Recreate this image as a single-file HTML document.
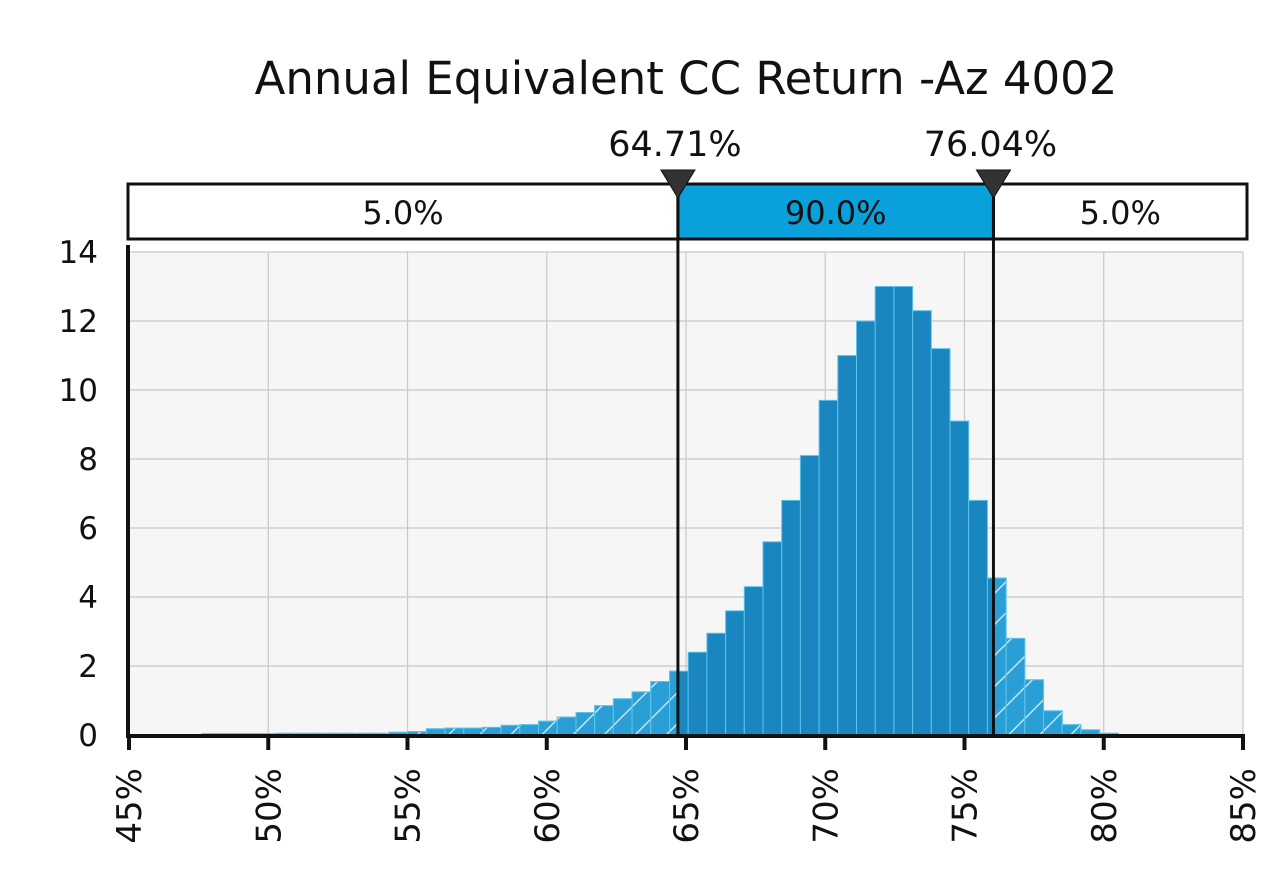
<!DOCTYPE html>
<html><head><meta charset="utf-8"><style>
html,body{margin:0;padding:0;background:#fff;}
svg{display:block;font-family:"DejaVu Sans","Liberation Sans",sans-serif;}
</style></head><body>
<svg id="chart" width="1280" height="894" viewBox="0 0 1280 894" xmlns="http://www.w3.org/2000/svg">
<defs>
<pattern id="hatch" patternUnits="userSpaceOnUse" width="22" height="22" patternTransform="rotate(45)">
<rect width="22" height="22" fill="#2a9fd6"/>
<line x1="0" y1="0" x2="0" y2="22" stroke="#bfe6f7" stroke-width="3"/>
</pattern>
<clipPath id="leftTail"><rect id="lt" x="0" y="0" width="0" height="894"/></clipPath>
<clipPath id="rightTail"><rect id="rt" x="0" y="0" width="1280" height="894"/></clipPath>
</defs>
<g id="root"></g>
</svg>
<script>
const binStart = 47.62;
const binWidth = 0.6715;
const counts = [0.04,0.04,0.04,0.04,0.05,0.05,0.05,0.05,0.05,0.05,0.08,0.1,0.18,0.2,0.2,0.22,0.28,0.3,0.4,0.52,0.65,0.85,1.05,1.25,1.55,1.85,2.4,2.95,3.6,4.3,5.6,6.8,8.1,9.7,11.0,12.0,13.0,13.0,12.3,11.2,9.1,6.8,4.55,2.8,1.6,0.7,0.3,0.15,0.05];
const xTicks = [45,50,55,60,65,70,75,80,85];
const yTicks = [0,2,4,6,8,10,12,14];
const lowerPct = 64.71;
const upperPct = 76.04;
const bandLabels = ["5.0%","90.0%","5.0%"];
const title = "Annual Equivalent CC Return -Az 4002";

const NS="http://www.w3.org/2000/svg";
const X0=129, PXP=27.85, Y0=735, PYU=34.5;
const xs = v => X0 + (v-45)*PXP;
const ys = v => Y0 - v*PYU;
const root=document.getElementById('root');
function mk(tag, attrs, parent){const e=document.createElementNS(NS,tag);for(const k in attrs)e.setAttribute(k,attrs[k]);(parent||root).appendChild(e);return e;}

// plot background
let bg=mk('rect',{x:128,y:252,width:1115,height:483,fill:'#f6f6f6',stroke:'#d8d8d8','stroke-width':1});


// grid
yTicks.forEach(t=>{
  const g=mk('line',{x1:128,x2:1243,y1:ys(t),y2:ys(t),stroke:'#c8c8c8','stroke-width':1.2});
  
  
});
xTicks.forEach(t=>{
  const g=mk('line',{x1:xs(t),x2:xs(t),y1:252,y2:735,stroke:'#c8c8c8','stroke-width':1.2});
  
  
});
// clip regions
document.getElementById('lt').setAttribute('width', xs(lowerPct));
document.getElementById('rt').setAttribute('x', xs(upperPct));
// bars
counts.forEach((c,i)=>{
  const x=xs(binStart+i*binWidth), w=binWidth*PXP, y=ys(c);
  const b=mk('rect',{x:x,y:y,width:w,height:Y0-y,fill:'#1a86c0',stroke:'#5cc3ec','stroke-width':1});
  
  
  ['leftTail','rightTail'].forEach(cp=>{
    const h=mk('rect',{x:x,y:y,width:w,height:Y0-y,fill:'url(#hatch)',stroke:'#5cc3ec','stroke-width':1,'clip-path':'url(#'+cp+')'});
    
    
  });
});
// axes
let ya=mk('line',{x1:128,x2:128,y1:245,y2:738,stroke:'#111','stroke-width':4});


let xa=mk('line',{x1:126,x2:1245,y1:736,y2:736,stroke:'#111','stroke-width':4});


yTicks.forEach(t=>{
  const l=mk('text',{x:98,y:ys(t)+11,'text-anchor':'end','font-size':31,fill:'#111'});
  l.textContent=t;
  
  
});
xTicks.forEach(t=>{
  const tk=mk('line',{x1:xs(t),x2:xs(t),y1:736,y2:750,stroke:'#111','stroke-width':4});
  
  
  const l=mk('text',{x:0,y:0,'text-anchor':'end','font-size':34,fill:'#111',transform:'translate('+(xs(t)+12)+',768) rotate(-90)'});
  l.textContent=t+'%';
  
  
});
// band
const bl=xs(lowerPct), bu=xs(upperPct);
let band=mk('rect',{x:128,y:184,width:1119,height:55,fill:'#fff',stroke:'#111','stroke-width':3});


let mid=mk('rect',{x:bl,y:184,width:bu-bl,height:55,fill:'#0aa0dc',stroke:'#111','stroke-width':3});


const centers=[(128+bl)/2,(bl+bu)/2,(bu+1247)/2];
bandLabels.forEach((s,i)=>{
  const t=mk('text',{x:centers[i],y:224,'text-anchor':'middle','font-size':32,fill:'#111'});
  t.textContent=s;
  
  
});
// marker lines
[[lowerPct,'lower'],[upperPct,'upper']].forEach(([p,n])=>{
  const x=xs(p);
  const ln=mk('line',{x1:x,x2:x,y1:184,y2:736,stroke:'#111','stroke-width':3});
  
  
  const tri=mk('polygon',{points:(x-17)+',170 '+(x+17)+',170 '+x+',198',fill:'#333',stroke:'#111','stroke-width':1});
  
  
  const lb=mk('text',{x:x-3,y:156,'text-anchor':'middle','font-size':35,fill:'#111'});
  lb.textContent=p.toFixed(2)+'%';
  
  
});
// title
let tt=mk('text',{x:686,y:94,'text-anchor':'middle','font-size':45,fill:'#111'});
tt.textContent=title;


</script>
</body></html>
